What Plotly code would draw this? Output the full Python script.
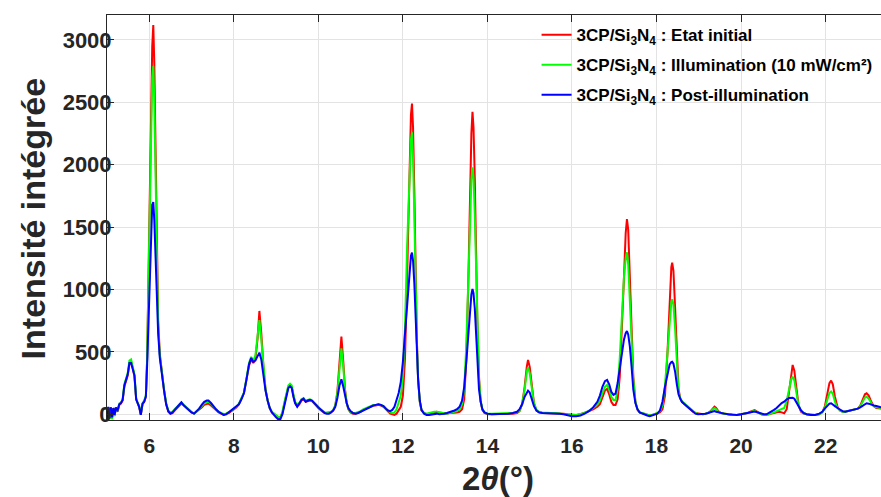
import plotly.graph_objects as go

two_theta = [
    5.00, 5.03, 5.06, 5.09, 5.12, 5.15, 5.18, 5.21, 5.25, 5.29, 5.33, 5.37, 5.41, 5.45, 5.49, 5.53, 5.57, 5.61, 5.65, 5.69,
    5.72, 5.76, 5.80, 5.84, 5.88, 5.92, 5.95, 5.98, 6.01, 6.04, 6.07, 6.095, 6.12, 6.15, 6.18, 6.21, 6.25, 6.30, 6.35, 6.40,
    6.45, 6.50, 6.55, 6.60, 6.65, 6.70, 6.76, 6.82, 6.88, 6.94, 7.00, 7.06, 7.12, 7.18, 7.24, 7.30, 7.36, 7.40, 7.46, 7.52,
    7.58, 7.64, 7.70, 7.76, 7.82, 7.88, 7.94, 8.00, 8.06, 8.12, 8.18, 8.24, 8.30, 8.36, 8.41, 8.46, 8.51, 8.56, 8.605, 8.65,
    8.70, 8.75, 8.80, 8.85, 8.90, 8.95, 9.00, 9.05, 9.10, 9.15, 9.20, 9.25, 9.29, 9.33, 9.37, 9.41, 9.45, 9.50, 9.55, 9.60,
    9.65, 9.70, 9.75, 9.80, 9.85, 9.90, 9.95, 10.00, 10.05, 10.10, 10.15, 10.20, 10.25, 10.30, 10.35, 10.40, 10.45, 10.50, 10.545, 10.59,
    10.63, 10.67, 10.71, 10.76, 10.82, 10.88, 10.94, 11.00, 11.06, 11.12, 11.18, 11.24, 11.30, 11.36, 11.42, 11.48, 11.54, 11.60, 11.65, 11.70,
    11.75, 11.80, 11.85, 11.90, 11.95, 12.00, 12.05, 12.10, 12.15, 12.19, 12.215, 12.24, 12.27, 12.30, 12.33, 12.36, 12.40, 12.44, 12.50, 12.56,
    12.62, 12.68, 12.74, 12.80, 12.86, 12.92, 12.98, 13.04, 13.10, 13.16, 13.22, 13.28, 13.34, 13.40, 13.45, 13.50, 13.55, 13.59, 13.62, 13.646,
    13.67, 13.70, 13.73, 13.76, 13.80, 13.84, 13.88, 13.93, 14.00, 14.10, 14.20, 14.30, 14.40, 14.50, 14.60, 14.70, 14.76, 14.82, 14.88, 14.93,
    14.96, 15.00, 15.05, 15.10, 15.16, 15.22, 15.30, 15.40, 15.50, 15.60, 15.70, 15.80, 15.90, 16.00, 16.10, 16.20, 16.30, 16.40, 16.50, 16.60,
    16.66, 16.72, 16.78, 16.83, 16.88, 16.93, 16.98, 17.03, 17.08, 17.13, 17.18, 17.23, 17.27, 17.30, 17.33, 17.37, 17.41, 17.45, 17.50, 17.55,
    17.60, 17.66, 17.72, 17.78, 17.84, 17.90, 17.96, 18.02, 18.08, 18.14, 18.20, 18.26, 18.31, 18.35, 18.37, 18.40, 18.44, 18.48, 18.52, 18.56,
    18.60, 18.65, 18.70, 18.75, 18.80, 18.86, 18.92, 18.98, 19.04, 19.10, 19.16, 19.22, 19.28, 19.33, 19.37, 19.41, 19.46, 19.52, 19.60, 19.70,
    19.80, 19.90, 20.00, 20.08, 20.16, 20.22, 20.28, 20.32, 20.36, 20.42, 20.48, 20.54, 20.60, 20.66, 20.72, 20.78, 20.84, 20.90, 20.96, 21.02,
    21.08, 21.14, 21.19, 21.22, 21.26, 21.31, 21.36, 21.42, 21.48, 21.55, 21.65, 21.75, 21.85, 21.92, 21.98, 22.04, 22.09, 22.13, 22.17, 22.22,
    22.28, 22.34, 22.40, 22.46, 22.52, 22.60, 22.68, 22.76, 22.82, 22.88, 22.93, 22.97, 23.02, 23.08, 23.14, 23.20, 23.26, 23.32,
]

etat_initial = [
    -40, 55, -35, 55, -30, 50, -10, 50, 20, 75, 85, 110, 220, 260, 310, 400, 420, 370, 300, 120,
    90, 60, -5, 80, 100, 140, 450, 1100, 1800, 2500, 2950, 3120, 2800, 2100, 1300, 750, 480, 320, 190, 80,
    20, 5, 10, 30, 50, 70, 85, 70, 50, 30, 15, 5, 20, 35, 55, 75, 85, 85, 70, 50,
    30, 15, 5, -5, 5, 10, 25, 40, 55, 80, 120, 170, 280, 390, 440, 410, 440, 600, 828, 650,
    380, 200, 110, 50, 15, 0, -15, -25, -30, 10, 90, 170, 220, 235, 220, 150, 90, 65, 80, 110,
    120, 100, 105, 110, 105, 85, 65, 50, 35, 20, 10, 10, 10, 15, 30, 70, 180, 420, 622, 420,
    200, 90, 40, 15, 5, 5, 10, 20, 35, 45, 55, 65, 70, 70, 75, 70, 60, 40, 20, 5,
    0, -5, 5, 30, 60, 150, 450, 1100, 1900, 2400, 2490, 2300, 1800, 1150, 600, 280, 100, 30, 10, 0,
    5, 15, 20, 20, 15, 10, 5, 5, 10, 10, 10, 15, 20, 40, 120, 450, 1100, 1800, 2250, 2425,
    2300, 1900, 1300, 750, 300, 100, 35, 10, 0, 0, 5, 5, 5, 5, 5, 10, 25, 80, 220, 380,
    435, 380, 220, 90, 30, 15, 10, 10, 10, 10, 5, 5, 0, -5, -5, 0, 10, 25, 40, 60,
    80, 130, 190, 203, 160, 100, 75, 75, 120, 300, 650, 1100, 1450, 1565, 1480, 1100, 650, 300, 100, 35,
    15, 10, 5, -5, -10, -5, 0, 5, 15, 40, 150, 500, 950, 1180, 1215, 1150, 850, 450, 200, 130,
    100, 85, 70, 55, 40, 20, 10, 5, 0, 0, 5, 10, 25, 50, 61, 50, 25, 10, 5, 0,
    -5, -5, 0, 5, 10, 20, 30, 34, 25, 10, 0, -5, -5, 0, 5, 10, 15, 20, 15, 8,
    40, 200, 350, 395, 350, 200, 70, 20, 5, 0, -5, -5, 0, 15, 60, 170, 250, 270, 240, 140,
    60, 30, 20, 20, 25, 30, 35, 45, 70, 120, 160, 168, 150, 100, 65, 50, 45, 45,
]

illumination = [
    -45, 50, -40, 50, -40, 45, -15, 50, 30, 85, 95, 120, 240, 280, 330, 430, 440, 380, 320, 130,
    95, 70, 0, 90, 110, 150, 450, 1050, 1700, 2300, 2700, 2790, 2500, 1900, 1200, 700, 470, 320, 200, 90,
    30, 15, 20, 40, 60, 80, 95, 75, 55, 35, 20, 5, 25, 40, 65, 90, 100, 100, 85, 55,
    35, 20, 10, 0, 5, 15, 30, 45, 60, 85, 125, 175, 290, 410, 460, 430, 470, 600, 755, 600,
    360, 200, 110, 50, 20, 5, -10, -20, -25, 20, 100, 180, 230, 245, 230, 160, 100, 75, 90, 120,
    130, 110, 115, 120, 110, 95, 75, 60, 40, 25, 15, 15, 15, 20, 35, 70, 170, 370, 529, 380,
    190, 90, 45, 20, 10, 10, 15, 25, 40, 50, 60, 70, 75, 75, 80, 75, 65, 45, 30, 15,
    10, 15, 40, 90, 150, 300, 700, 1350, 1900, 2200, 2260, 2050, 1600, 1050, 580, 280, 100, 35, 10, 5,
    10, 20, 20, 20, 15, 10, 5, 5, 10, 15, 20, 25, 40, 80, 200, 550, 1100, 1600, 1880, 1979,
    1900, 1600, 1150, 700, 280, 110, 40, 15, 5, 5, 5, 5, 10, 10, 10, 15, 30, 80, 200, 340,
    376, 330, 200, 90, 35, 20, 15, 10, 10, 10, 5, 5, 0, -5, -5, 0, 10, 30, 50, 80,
    110, 170, 220, 235, 200, 140, 115, 115, 200, 450, 800, 1100, 1250, 1298, 1200, 950, 600, 280, 100, 40,
    15, 10, 5, -5, -10, -5, 0, 10, 25, 70, 230, 520, 780, 900, 921, 880, 680, 380, 180, 130,
    105, 90, 75, 60, 45, 25, 10, 5, 0, 0, 5, 10, 20, 40, 48, 40, 20, 10, 5, 0,
    -5, -5, 0, 5, 10, 15, 25, 28, 20, 10, 0, -5, -5, 0, 10, 15, 25, 35, 40, 50,
    110, 220, 285, 301, 270, 170, 75, 25, 10, 0, -5, -5, 0, 15, 50, 120, 170, 182, 165, 100,
    50, 30, 20, 20, 25, 30, 35, 45, 65, 100, 135, 141, 125, 90, 65, 55, 50, 50,
]

post_illumination = [
    -40, 60, -30, 55, -25, 50, -5, 55, 30, 80, 90, 115, 230, 270, 320, 410, 410, 360, 310, 120,
    90, 60, -5, 85, 100, 145, 400, 750, 1150, 1500, 1680, 1700, 1550, 1250, 950, 650, 450, 310, 190, 80,
    25, 5, 15, 35, 55, 75, 95, 70, 50, 30, 15, 5, 25, 45, 75, 100, 110, 110, 90, 60,
    40, 20, 10, -5, 0, 15, 30, 45, 60, 80, 120, 170, 280, 400, 450, 420, 430, 470, 494, 440,
    300, 190, 110, 50, 15, -10, -25, -40, -40, 0, 85, 160, 210, 225, 210, 140, 90, 60, 85, 115,
    125, 100, 110, 115, 110, 90, 70, 55, 40, 25, 10, 5, 5, 15, 30, 60, 130, 230, 280, 220,
    140, 90, 50, 25, 10, 5, 10, 20, 35, 45, 55, 65, 70, 75, 80, 75, 65, 45, 30, 25,
    35, 60, 110, 170, 260, 420, 650, 900, 1150, 1270, 1295, 1230, 1050, 800, 500, 275, 110, 35, 5, -5,
    -5, 0, 5, 5, 0, 0, 5, 10, 15, 25, 30, 40, 60, 110, 220, 420, 650, 850, 960, 1004,
    970, 850, 650, 420, 200, 100, 40, 15, 5, 0, 0, 0, 5, 5, 10, 20, 40, 80, 140, 180,
    189, 175, 120, 65, 30, 15, 10, 10, 10, 10, 5, 0, -10, -15, -15, -10, 5, 25, 55, 100,
    150, 220, 265, 275, 240, 180, 155, 165, 250, 380, 500, 600, 650, 667, 640, 540, 380, 200, 90, 40,
    15, 5, 0, -10, -15, -10, -5, 5, 30, 100, 220, 330, 400, 418, 421, 405, 340, 240, 160, 125,
    100, 85, 70, 55, 40, 20, 5, 0, 0, 5, 5, 10, 15, 20, 26, 20, 15, 10, 5, 0,
    -5, -5, 0, 5, 10, 15, 20, 21, 18, 10, 5, 0, 0, 10, 25, 35, 50, 70, 90, 101,
    120, 130, 133, 133, 125, 95, 60, 30, 10, 0, -5, -5, 5, 20, 45, 70, 85, 88, 80, 65,
    50, 35, 25, 21, 25, 30, 35, 45, 55, 70, 85, 88, 85, 75, 70, 66, 60, 55,
]

series_names = [
    "3CP/Si<sub>3</sub>N<sub>4</sub> : Etat initial",
    "3CP/Si<sub>3</sub>N<sub>4</sub> : Illumination (10 mW/cm²)",
    "3CP/Si<sub>3</sub>N<sub>4</sub> : Post-illumination",
]
series_colors = ["#ff0000", "#00ff00", "#0000ff"]
x_ticks = [6, 8, 10, 12, 14, 16, 18, 20, 22]
y_ticks = [0, 500, 1000, 1500, 2000, 2500, 3000]
x_title = "2<i>θ</i>(°)"
y_title = "Intensité intégrée"

FONT = "Arial, 'Liberation Sans', sans-serif"
TXT = "#262626"

fig = go.Figure()
legends = ["legend", "legend2", "legend3"]
for name, ys, col, lg in zip(series_names, [etat_initial, illumination, post_illumination], series_colors, legends):
    fig.add_trace(go.Scatter(
        x=two_theta, y=ys, mode="lines", name=name,
        line=dict(color=col, width=2), legend=lg, showlegend=True,
    ))

leg_common = dict(
    x=0.555, xanchor="left", yanchor="middle",
    bgcolor="rgba(0,0,0,0)", borderwidth=0,
    font=dict(family=FONT, size=17, color="#000000", weight="bold"),
)
fig.update_layout(
    width=881, height=497,
    margin=dict(l=107, r=0, t=15, b=77),
    paper_bgcolor="white", plot_bgcolor="white",
    showlegend=True,
    legend=dict(y=0.950, **leg_common),
    legend2=dict(y=0.876, **leg_common),
    legend3=dict(y=0.802, **leg_common),
    xaxis=dict(
        range=[5, 23.31], tickvals=x_ticks, ticks="inside", ticklen=7, tickwidth=1, tickcolor=TXT,
        showline=True, linecolor=TXT, linewidth=1, mirror="ticks", automargin=False,
        showgrid=True, gridcolor="#e3e3e3", gridwidth=1, zeroline=False, ticklabelstandoff=7,
        tickfont=dict(family=FONT, size=21, color=TXT, weight="bold"),
    ),
    yaxis=dict(
        range=[-46, 3200], tickvals=y_ticks, ticks="inside", ticklen=7, tickwidth=1, tickcolor=TXT,
        showline=True, linecolor=TXT, linewidth=1, automargin=False,
        showgrid=True, gridcolor="#e3e3e3", gridwidth=1, zeroline=False, ticklabelstandoff=-10,
        tickfont=dict(family=FONT, size=22, color=TXT, weight="bold"),
    ),
    annotations=[
        dict(text=x_title, xref="paper", yref="paper", x=0.505, y=-0.144, xanchor="center", yanchor="middle",
             showarrow=False, font=dict(family=FONT, size=33, color=TXT, weight="bold")),
        dict(text=y_title, xref="paper", yref="paper", x=-0.096, y=0.497, xanchor="center", yanchor="middle",
             textangle=-90, showarrow=False, font=dict(family=FONT, size=34, color=TXT, weight="bold")),
    ],
)

fig.write_html(
    "out.html",
    config={"displayModeBar": False},
    post_script="document.body.style.margin='0';document.body.style.overflow='hidden';",
)
